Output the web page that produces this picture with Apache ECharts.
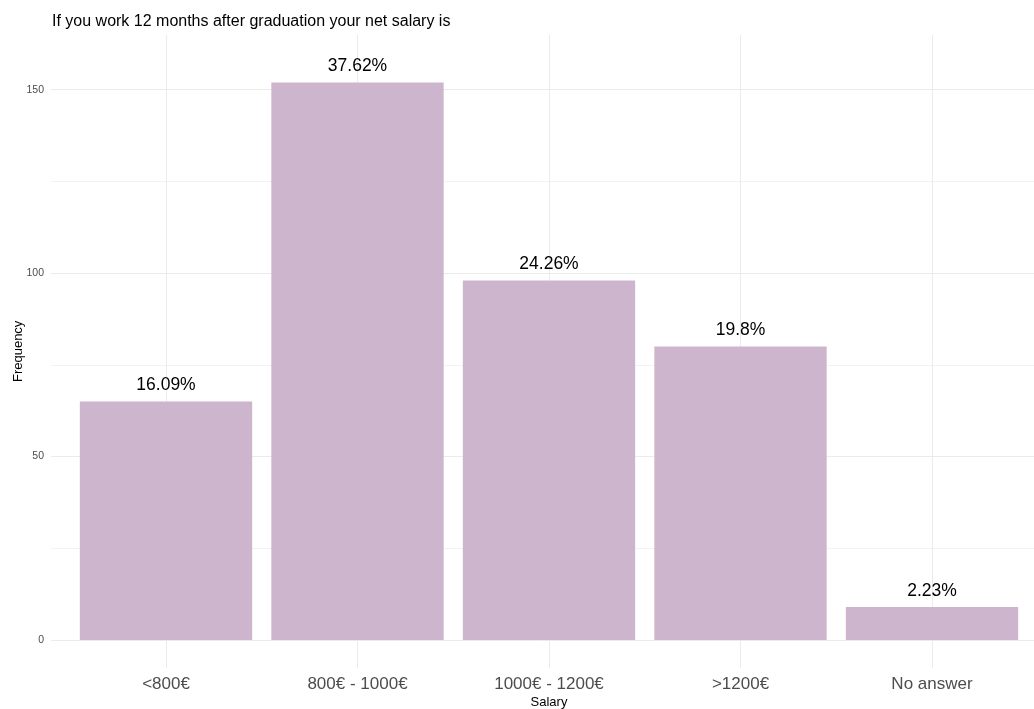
<!DOCTYPE html>
<html>
<head>
<meta charset="utf-8">
<script src="https://cdn.jsdelivr.net/npm/echarts@6/dist/echarts.min.js"></script>
<style>
html,body{margin:0;padding:0;background:#fff;}
#chart{width:1034px;height:709px;}
</style>
</head>
<body>
<div id="chart"></div>
<script>
const titleText = 'If you work 12 months after graduation your net salary is';
const categories = ['<800€', '800€ - 1000€', '1000€ - 1200€', '>1200€', 'No answer'];
const counts = [65, 152, 98, 80, 9];
const yTicks = [0, 50, 100, 150];

const total = counts.reduce((a, b) => a + b, 0);
const pctLabels = counts.map(c => (+(c / total * 100).toFixed(2)) + '%');
// helper axis for vertical gridlines at category centres (odd positions)
const halfSteps = Array.from({length: categories.length * 2 + 1}, (_, i) => String(i));

const FONT = '"Liberation Sans", Arial, sans-serif';
const chart = echarts.init(document.getElementById('chart'), null, {renderer: 'canvas'});

chart.setOption({
  animation: false,
  backgroundColor: '#ffffff',
  textStyle: {fontFamily: FONT},
  title: {
    text: titleText,
    left: 47, top: 9,
    textStyle: {fontFamily: FONT, fontSize: 16, fontWeight: 'normal', color: '#000'}
  },
  grid: [
    {left: 70.25, right: 6.25, top: 34.7, bottom: 69, outerBoundsMode: 'none', containLabel: false},
    {left: 51, right: 0, top: 34.7, bottom: 69, outerBoundsMode: 'none', containLabel: false},
    {left: 70.25, right: 6.25, top: 34.7, bottom: 41, outerBoundsMode: 'none', containLabel: false}
  ],
  xAxis: [
    {
      gridIndex: 0, type: 'category', data: categories,
      axisLine: {show: false}, axisTick: {show: false}, splitLine: {show: false},
      axisLabel: {fontFamily: FONT, fontSize: 17, color: '#4D4D4D', margin: 36}
    },
    {
      gridIndex: 1, type: 'value', min: 0, max: 1, show: false
    },
    {
      gridIndex: 2, type: 'category', data: halfSteps, boundaryGap: false,
      axisLine: {show: false}, axisTick: {show: false}, axisLabel: {show: false},
      splitLine: {show: true, interval: (i) => i % 2 === 1, lineStyle: {color: '#EBEBEB', width: 1}},
      name: 'Salary', nameLocation: 'middle', nameGap: 28,
      nameTextStyle: {fontFamily: FONT, fontSize: 13, color: '#000'}
    }
  ],
  yAxis: [
    {
      gridIndex: 0, type: 'value', min: 0, max: 165, interval: 50,
      axisLine: {show: false}, axisTick: {show: false}, axisLabel: {show: false}, splitLine: {show: false}
    },
    {
      gridIndex: 1, type: 'value', min: 0, max: 165, interval: 50,
      axisLine: {show: false}, axisTick: {show: false},
      axisLabel: {fontFamily: FONT, fontSize: 10.5, color: '#4D4D4D', margin: 7,
        formatter: v => yTicks.includes(v) ? String(v) : ''},
      splitLine: {show: true, showMaxLine: false, lineStyle: {color: '#EBEBEB', width: 1}},
      minorTick: {show: false, splitNumber: 2},
      minorSplitLine: {show: true, lineStyle: {color: '#F2F2F2', width: 1}}
    },
    {
      gridIndex: 2, type: 'value', min: 0, max: 1,
      axisLine: {show: false}, axisTick: {show: false}, axisLabel: {show: false}, splitLine: {show: false},
      name: 'Frequency', nameLocation: 'middle', nameGap: 45, nameRotate: 90,
      nameTextStyle: {fontFamily: FONT, fontSize: 13, color: '#000'}
    }
  ],
  series: [
    {
      type: 'bar', xAxisIndex: 0, yAxisIndex: 0, data: counts,
      barCategoryGap: '10%',
      itemStyle: {color: '#CDB5CD'},
      label: {
        show: true, position: 'top', distance: 7,
        fontFamily: FONT, fontSize: 17.5, color: '#000',
        formatter: p => pctLabels[p.dataIndex]
      },
      z: 5
    }
  ]
});
</script>
</body>
</html>
